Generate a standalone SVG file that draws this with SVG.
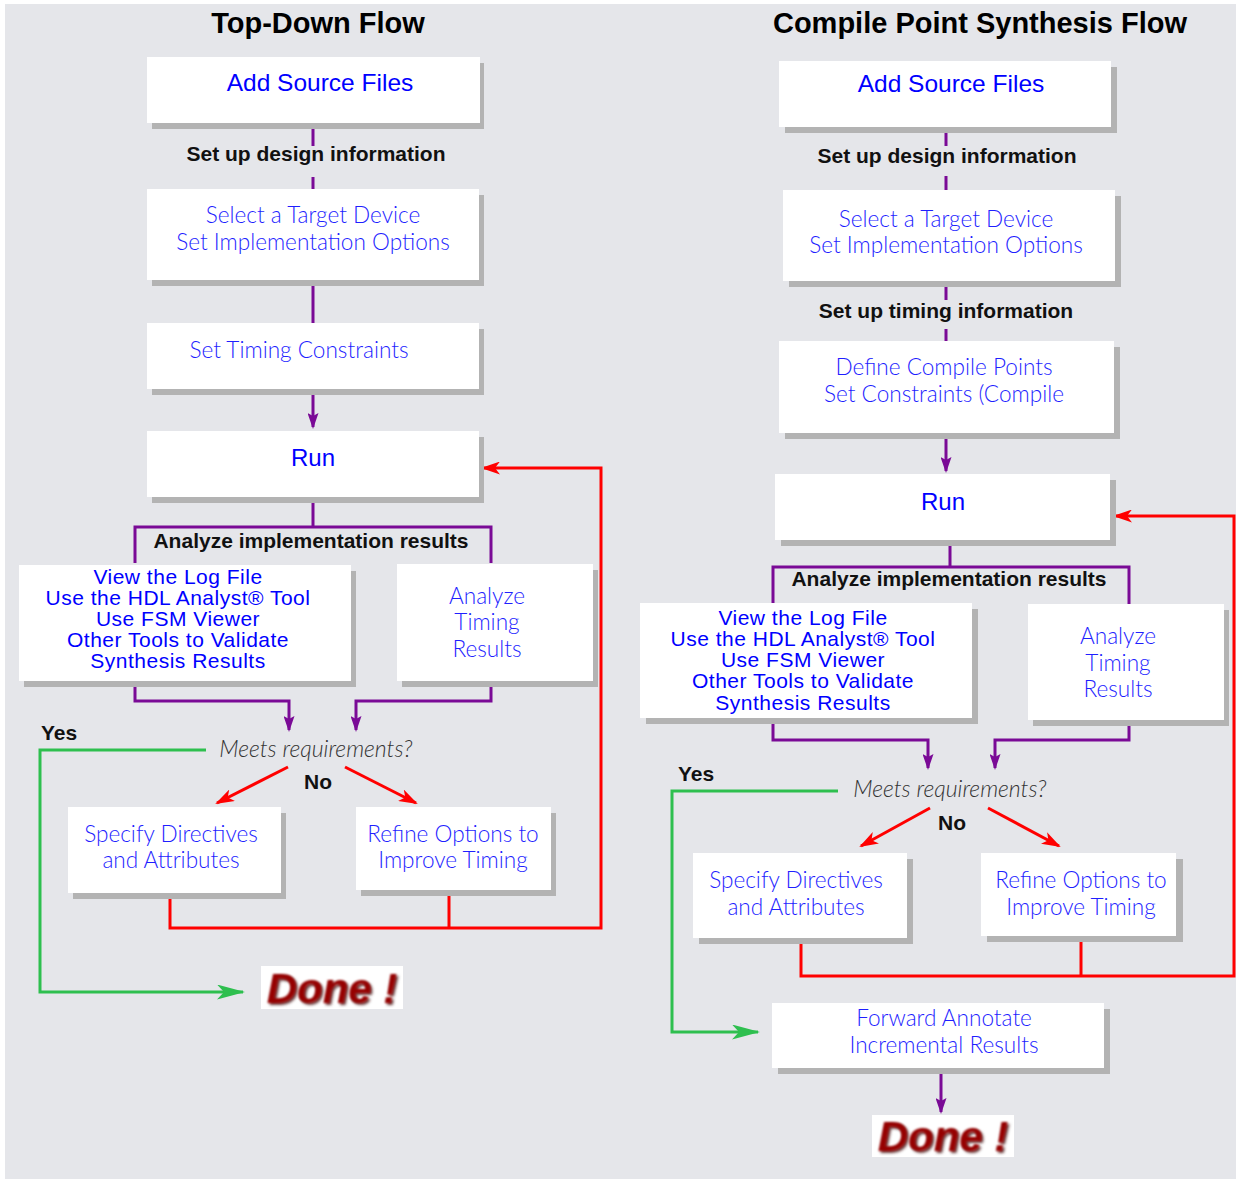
<svg xmlns="http://www.w3.org/2000/svg" width="1236" height="1181" viewBox="0 0 1236 1181">
<defs>
<style>
.bg{fill:#e5e6ea}
.sh{fill:#b3b3b3}
.bx{fill:#ffffff}
.g{font-family:"Lato","Open Sans","Liberation Sans",sans-serif;font-weight:300;font-size:22.6px;fill:#1f1fff;text-anchor:middle}
.a{font-family:"Liberation Sans",Arial,sans-serif;fill:#0000ff;text-anchor:middle}
.v{font-size:21px;letter-spacing:0.5px}
.lbl{font-family:"Liberation Sans",Arial,sans-serif;font-weight:bold;font-size:21px;fill:#111111;text-anchor:middle}
.ttl{font-family:"Liberation Sans",Arial,sans-serif;font-weight:bold;font-size:29px;fill:#000000;text-anchor:middle}
.q{font-family:"Lato","Open Sans","Liberation Sans",sans-serif;font-weight:300;font-style:italic;font-size:23px;fill:#333333;text-anchor:middle}
.done{font-family:"Liberation Sans",Arial,sans-serif;font-weight:bold;font-style:italic;font-size:42px;fill:#960000}
.pl{fill:none;stroke:#7a0a96;stroke-width:3}
.rl{fill:none;stroke:#ff0000;stroke-width:3}
.gl{fill:none;stroke:#2ebf4f;stroke-width:3}
</style>
<marker id="ap" markerUnits="userSpaceOnUse" viewBox="0 0 16 11" markerWidth="16" markerHeight="11" refX="14" refY="5.5" orient="auto"><path d="M0,0 L16,5.5 L0,11 L3,5.5 z" fill="#7a0a96"/></marker>
<marker id="ar" markerUnits="userSpaceOnUse" viewBox="0 0 19 13" markerWidth="19" markerHeight="13" refX="17" refY="6.5" orient="auto"><path d="M0,0 L19,6.5 L0,13 L5,6.5 z" fill="#ff0000"/></marker>
<marker id="ag" markerUnits="userSpaceOnUse" viewBox="0 0 28 15" markerWidth="28" markerHeight="15" refX="26" refY="7.5" orient="auto"><path d="M0,0 L28,7.5 L0,15 L7,7.5 z" fill="#2ebf4f"/></marker>
<filter id="soft" x="-10%" y="-25%" width="125%" height="160%">
<feGaussianBlur in="SourceAlpha" stdDeviation="1.8" result="b"/>
<feOffset in="b" dx="1.5" dy="1.5" result="o"/>
<feFlood flood-color="#3a0000" flood-opacity="0.75"/>
<feComposite in2="o" operator="in" result="s"/>
<feGaussianBlur in="SourceGraphic" stdDeviation="0.8" result="gg"/>
<feMerge><feMergeNode in="s"/><feMergeNode in="gg"/></feMerge>
</filter>
</defs>

<rect x="0" y="0" width="1236" height="1181" fill="#ffffff"/>
<rect class="bg" x="5" y="4" width="1231" height="1175"/>

<text class="ttl" x="318" y="33">Top-Down Flow</text>
<text class="ttl" x="980" y="33">Compile Point Synthesis Flow</text>

<g id="connectors">
  <path class="pl" d="M313,123 V146 M313,177 V189"/>
  <path class="pl" d="M313,280 V323"/>
  <path class="pl" d="M313,389 V427" marker-end="url(#ap)"/>
  <path class="pl" d="M313,497 V527 M135,563 V527 H491 V563"/>
  <path class="pl" d="M135,681 V701 H289 V730" marker-end="url(#ap)"/>
  <path class="pl" d="M491,681 V701 H356 V730" marker-end="url(#ap)"/>
  <path class="gl" d="M206,750 H40 V992 H243" marker-end="url(#ag)"/>
  <path class="rl" d="M288,767 L217,803" marker-end="url(#ar)"/>
  <path class="rl" d="M345,767 L416,803" marker-end="url(#ar)"/>
  <path class="rl" d="M170,893 V928 H601 V468 H483" marker-end="url(#ar)"/>
  <path class="rl" d="M449,890 V928"/>
  <path class="pl" d="M946,127 V146 M946,176 V190"/>
  <path class="pl" d="M946,281 V300 M946,329 V341"/>
  <path class="pl" d="M946,433 V471" marker-end="url(#ap)"/>
  <path class="pl" d="M950,540 V567 M773,603 V567 H1129 V604"/>
  <path class="pl" d="M773,718 V740 H928 V768" marker-end="url(#ap)"/>
  <path class="pl" d="M1129,720 V740 H995 V768" marker-end="url(#ap)"/>
  <path class="gl" d="M838,791 H672 V1032 H758" marker-end="url(#ag)"/>
  <path class="rl" d="M930,808 L861,846" marker-end="url(#ar)"/>
  <path class="rl" d="M988,808 L1059,846" marker-end="url(#ar)"/>
  <path class="rl" d="M801,938 V976 H1234 V516 H1115" marker-end="url(#ar)"/>
  <path class="rl" d="M1081,936 V976"/>
  <path class="pl" d="M941,1068 V1112" marker-end="url(#ap)"/>
</g>

<g id="labels">
  <text class="lbl" x="316" y="161">Set up design information</text>
  <text class="lbl" x="311" y="548">Analyze implementation results</text>
  <text class="lbl" x="59" y="740">Yes</text>
  <text class="lbl" x="318" y="789">No</text>
  <text class="q" x="316" y="757">Meets requirements?</text>
  <text class="lbl" x="947" y="163">Set up design information</text>
  <text class="lbl" x="946" y="318">Set up timing information</text>
  <text class="lbl" x="949" y="586">Analyze implementation results</text>
  <text class="lbl" x="696" y="781">Yes</text>
  <text class="lbl" x="952" y="830">No</text>
  <text class="q" x="950" y="797">Meets requirements?</text>
</g>

<g id="l-add">
  <rect class="sh" x="152" y="63" width="332" height="66"/>
  <rect class="bx" x="147" y="57" width="333" height="66"/>
  <text class="a" x="320" y="91" font-size="24.5">Add Source Files</text>
</g>
<g id="l-select">
  <rect class="sh" x="152" y="195" width="332" height="91"/>
  <rect class="bx" x="147" y="189" width="332" height="91"/>
  <text class="g" x="313" y="223">Select a Target Device</text>
  <text class="g" x="313" y="250">Set Implementation Options</text>
</g>
<g id="l-timing">
  <rect class="sh" x="152" y="329" width="332" height="66"/>
  <rect class="bx" x="147" y="323" width="332" height="66"/>
  <text class="g" x="299" y="358">Set Timing Constraints</text>
</g>
<g id="l-run">
  <rect class="sh" x="152" y="437" width="332" height="66"/>
  <rect class="bx" x="147" y="431" width="332" height="66"/>
  <text class="a" x="313" y="466" font-size="24">Run</text>
</g>
<g id="l-view">
  <rect class="sh" x="24" y="571" width="332" height="116"/>
  <rect class="bx" x="19" y="565" width="332" height="116"/>
  <text class="a v" x="178" y="584">View the Log File</text>
  <text class="a v" x="178" y="605">Use the HDL Analyst® Tool</text>
  <text class="a v" x="178" y="626">Use FSM Viewer</text>
  <text class="a v" x="178" y="647">Other Tools to Validate</text>
  <text class="a v" x="178" y="668">Synthesis Results</text>
</g>
<g id="l-analyze">
  <rect class="sh" x="402" y="570" width="196" height="117"/>
  <rect class="bx" x="397" y="564" width="196" height="117"/>
  <text class="g" x="487" y="604">Analyze</text>
  <text class="g" x="487" y="630">Timing</text>
  <text class="g" x="487" y="657">Results</text>
</g>
<g id="l-specify">
  <rect class="sh" x="73" y="813" width="213" height="86"/>
  <rect class="bx" x="68" y="807" width="213" height="86"/>
  <text class="g" x="171" y="842">Specify Directives</text>
  <text class="g" x="171" y="868">and Attributes</text>
</g>
<g id="l-refine">
  <rect class="sh" x="361" y="813" width="195" height="83"/>
  <rect class="bx" x="356" y="807" width="195" height="83"/>
  <text class="g" x="453" y="842">Refine Options to</text>
  <text class="g" x="453" y="868">Improve Timing</text>
</g>
<g id="l-done">
  <rect class="bx" x="261" y="966" width="142" height="43"/>
  <text class="done" x="332" y="1003" text-anchor="middle" filter="url(#soft)">Done !</text>
</g>

<g id="r-add">
  <rect class="sh" x="785" y="67" width="332" height="66"/>
  <rect class="bx" x="779" y="61" width="332" height="66"/>
  <text class="a" x="951" y="92" font-size="24.5">Add Source Files</text>
</g>
<g id="r-select">
  <rect class="sh" x="789" y="196" width="332" height="91"/>
  <rect class="bx" x="783" y="190" width="332" height="91"/>
  <text class="g" x="946" y="227">Select a Target Device</text>
  <text class="g" x="946" y="253">Set Implementation Options</text>
</g>
<g id="r-define">
  <rect class="sh" x="785" y="347" width="335" height="92"/>
  <rect class="bx" x="779" y="341" width="335" height="92"/>
  <text class="g" x="944" y="375">Define Compile Points</text>
  <text class="g" x="944" y="402">Set Constraints (Compile</text>
</g>
<g id="r-run">
  <rect class="sh" x="781" y="480" width="335" height="66"/>
  <rect class="bx" x="775" y="474" width="335" height="66"/>
  <text class="a" x="943" y="510" font-size="24">Run</text>
</g>
<g id="r-view">
  <rect class="sh" x="646" y="609" width="332" height="115"/>
  <rect class="bx" x="640" y="603" width="332" height="115"/>
  <text class="a v" x="803" y="625">View the Log File</text>
  <text class="a v" x="803" y="646">Use the HDL Analyst® Tool</text>
  <text class="a v" x="803" y="667">Use FSM Viewer</text>
  <text class="a v" x="803" y="688">Other Tools to Validate</text>
  <text class="a v" x="803" y="710">Synthesis Results</text>
</g>
<g id="r-analyze">
  <rect class="sh" x="1033" y="610" width="196" height="116"/>
  <rect class="bx" x="1028" y="604" width="196" height="116"/>
  <text class="g" x="1118" y="644">Analyze</text>
  <text class="g" x="1118" y="671">Timing</text>
  <text class="g" x="1118" y="697">Results</text>
</g>
<g id="r-specify">
  <rect class="sh" x="699" y="859" width="214" height="85"/>
  <rect class="bx" x="693" y="853" width="214" height="85"/>
  <text class="g" x="796" y="888">Specify Directives</text>
  <text class="g" x="796" y="915">and Attributes</text>
</g>
<g id="r-refine">
  <rect class="sh" x="987" y="859" width="196" height="83"/>
  <rect class="bx" x="981" y="853" width="195" height="83"/>
  <text class="g" x="1081" y="888">Refine Options to</text>
  <text class="g" x="1081" y="915">Improve Timing</text>
</g>
<g id="r-forward">
  <rect class="sh" x="778" y="1009" width="332" height="65"/>
  <rect class="bx" x="772" y="1003" width="332" height="65"/>
  <text class="g" x="944" y="1026">Forward Annotate</text>
  <text class="g" x="944" y="1053">Incremental Results</text>
</g>
<g id="r-done">
  <rect class="bx" x="872" y="1115" width="142" height="42"/>
  <text class="done" x="943" y="1151" text-anchor="middle" filter="url(#soft)">Done !</text>
</g>
</svg>
